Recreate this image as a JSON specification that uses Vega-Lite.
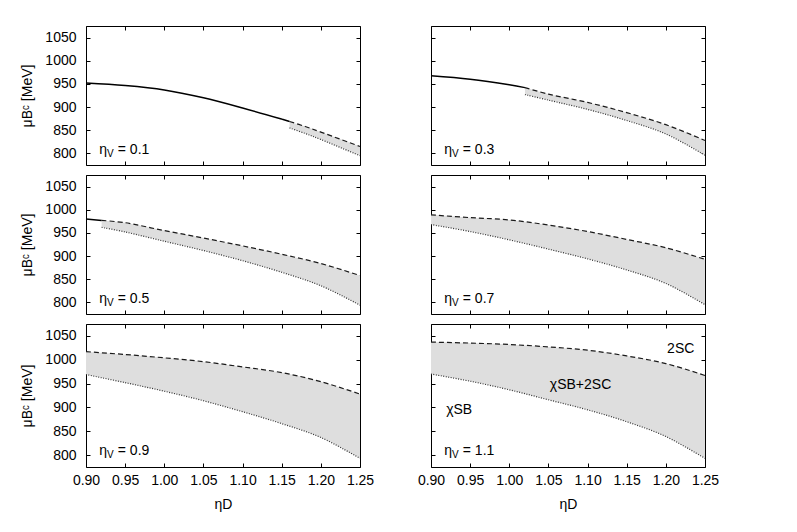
{
"$schema":"https://vega.github.io/schema/vega-lite/v6.json",
"padding":{"left":20,"top":25,"right":5,"bottom":5},
"background":"white",
"config":{
 "view":{"stroke":"#000","strokeWidth":1},
 "axis":{"domain":false,"grid":false,"tickSize":-4,"tickColor":"#000","tickWidth":1,"labelFont":"Liberation Sans","labelFontSize":14,"labelColor":"#000","labelOverlap":false,"labelFlush":false,"titleFont":"Liberation Sans","titleFontSize":14,"titleFontWeight":"normal","titleColor":"#000","titlePadding":10},
 "axisX":{"labelPadding":10},
 "axisY":{"labelPadding":14},
 "text":{"font":"Liberation Sans","fontSize":14,"color":"#000"}
},
"datasets":{
 "band":[
  {"v":0.1,"x":1.16,"lo":855,"hi":869},{"v":0.1,"x":1.18,"lo":843,"hi":858},{"v":0.1,"x":1.2,"lo":830,"hi":846},{"v":0.1,"x":1.25,"lo":795,"hi":815},
  {"v":0.3,"x":1.02,"lo":927,"hi":942},{"v":0.3,"x":1.05,"lo":915,"hi":928},{"v":0.3,"x":1.1,"lo":895,"hi":910},{"v":0.3,"x":1.15,"lo":871,"hi":888},{"v":0.3,"x":1.2,"lo":842,"hi":862},{"v":0.3,"x":1.25,"lo":796,"hi":828},
  {"v":0.5,"x":0.92,"lo":962,"hi":977},{"v":0.5,"x":0.95,"lo":952,"hi":972},{"v":0.5,"x":1.0,"lo":932,"hi":955},{"v":0.5,"x":1.05,"lo":912,"hi":939},{"v":0.5,"x":1.1,"lo":890,"hi":922},{"v":0.5,"x":1.15,"lo":865,"hi":904},{"v":0.5,"x":1.2,"lo":836,"hi":884},{"v":0.5,"x":1.25,"lo":794,"hi":858},
  {"v":0.7,"x":0.9,"lo":968,"hi":989},{"v":0.7,"x":0.95,"lo":953,"hi":983},{"v":0.7,"x":1.0,"lo":935,"hi":978},{"v":0.7,"x":1.05,"lo":915,"hi":967},{"v":0.7,"x":1.1,"lo":894,"hi":953},{"v":0.7,"x":1.15,"lo":870,"hi":936},{"v":0.7,"x":1.2,"lo":841,"hi":918},{"v":0.7,"x":1.25,"lo":795,"hi":893},
  {"v":0.9,"x":0.9,"lo":969,"hi":1017},{"v":0.9,"x":0.95,"lo":952,"hi":1011},{"v":0.9,"x":1.0,"lo":934,"hi":1004},{"v":0.9,"x":1.05,"lo":914,"hi":996},{"v":0.9,"x":1.1,"lo":891,"hi":985},{"v":0.9,"x":1.15,"lo":866,"hi":973},{"v":0.9,"x":1.2,"lo":837,"hi":954},{"v":0.9,"x":1.25,"lo":793,"hi":928},
  {"v":1.1,"x":0.9,"lo":970,"hi":1037},{"v":1.1,"x":0.95,"lo":955,"hi":1035},{"v":1.1,"x":1.0,"lo":937,"hi":1032},{"v":1.1,"x":1.05,"lo":916,"hi":1027},{"v":1.1,"x":1.1,"lo":895,"hi":1020},{"v":1.1,"x":1.15,"lo":870,"hi":1008},{"v":1.1,"x":1.2,"lo":839,"hi":992},{"v":1.1,"x":1.25,"lo":793,"hi":967}
 ],
 "solid":[
  {"v":0.1,"x":0.9,"y":952},{"v":0.1,"x":0.95,"y":946.5},{"v":0.1,"x":1.0,"y":937},{"v":0.1,"x":1.05,"y":920},{"v":0.1,"x":1.1,"y":898},{"v":0.1,"x":1.15,"y":874},{"v":0.1,"x":1.16,"y":869},
  {"v":0.3,"x":0.9,"y":967.5},{"v":0.3,"x":0.95,"y":960},{"v":0.3,"x":1.0,"y":948},{"v":0.3,"x":1.02,"y":942},
  {"v":0.5,"x":0.9,"y":980},{"v":0.5,"x":0.92,"y":977}
 ],
 "ann":[
  {"v":0.1,"x":0.917,"y":808,"t":"= 0.1"},{"v":0.3,"x":0.917,"y":808,"t":"= 0.3"},{"v":0.5,"x":0.917,"y":808,"t":"= 0.5"},
  {"v":0.7,"x":0.917,"y":808,"t":"= 0.7"},{"v":0.9,"x":0.917,"y":808,"t":"= 0.9"},{"v":1.1,"x":0.917,"y":808,"t":"= 1.1"}
 ],
 "phase":[
  {"v":1.1,"x":1.219,"y":1022,"t":"2SC"},{"v":1.1,"x":1.091,"y":948,"t":"χSB+2SC"},{"v":1.1,"x":0.936,"y":895,"t":"χSB"}
 ]
},
"vconcat":[
 {"hconcat":[
  {"width":274,"height":139,
   "layer":[
    {"data":{"name":"band"},"transform":[{"filter":{"field":"v","equal":0.1}}],"mark":{"type":"area","color":"#dedede","interpolate":"catmull-rom"},
     "encoding":{"x":{"field":"x","type":"quantitative","scale":{"domain":[0.9,1.25],"nice":false,"zero":false},"axis":{"orient":"bottom","labels":false,"title":null,"values":[0.9,0.95,1,1.05,1.1,1.15,1.2,1.25]}},
      "y":{"field":"lo","type":"quantitative","scale":{"domain":[775,1075],"nice":false,"zero":false},"axis":{"orient":"left","title":"μBᶜ [MeV]","format":"d","values":[800,850,900,950,1000,1050]}},"y2":{"field":"hi"}}},
    {"data":{"name":"band"},"transform":[{"filter":{"field":"v","equal":0.1}}],"mark":{"type":"line","color":"#1a1a1a","strokeWidth":1.2,"strokeDash":[5,3],"interpolate":"catmull-rom"},
     "encoding":{"x":{"field":"x","type":"quantitative","scale":{"domain":[0.9,1.25],"nice":false,"zero":false},"axis":{"orient":"top","labels":false,"title":null,"values":[0.9,0.95,1,1.05,1.1,1.15,1.2,1.25]}},
      "y":{"field":"hi","type":"quantitative","scale":{"domain":[775,1075],"nice":false,"zero":false},"axis":{"orient":"right","labels":false,"title":null,"values":[800,850,900,950,1000,1050]}}}},
    {"data":{"name":"band"},"transform":[{"filter":{"field":"v","equal":0.1}}],"mark":{"type":"line","color":"#333","strokeWidth":1.2,"strokeDash":[1,1.5],"interpolate":"catmull-rom"},
     "encoding":{"x":{"field":"x","type":"quantitative","scale":{"domain":[0.9,1.25],"nice":false,"zero":false},"axis":null},"y":{"field":"lo","type":"quantitative","scale":{"domain":[775,1075],"nice":false,"zero":false},"axis":null}}},
    {"data":{"name":"solid"},"transform":[{"filter":{"field":"v","equal":0.1}}],"mark":{"type":"line","color":"#000","strokeWidth":1.5,"interpolate":"catmull-rom"},
     "encoding":{"x":{"field":"x","type":"quantitative","scale":{"domain":[0.9,1.25],"nice":false,"zero":false},"axis":null},"y":{"field":"y","type":"quantitative","scale":{"domain":[775,1075],"nice":false,"zero":false},"axis":null}}},
    {"data":{"name":"ann"},"transform":[{"filter":{"field":"v","equal":0.1}}],"mark":{"type":"text","align":"left","baseline":"middle"},
     "encoding":{"x":{"field":"x","type":"quantitative","scale":{"domain":[0.9,1.25],"nice":false,"zero":false},"axis":null},"y":{"field":"y","type":"quantitative","scale":{"domain":[775,1075],"nice":false,"zero":false},"axis":null},"text":{"value":"η"}}},
    {"data":{"name":"ann"},"transform":[{"filter":{"field":"v","equal":0.1}}],"mark":{"type":"text","align":"left","baseline":"middle","fontSize":10,"dx":7.7,"dy":4},
     "encoding":{"x":{"field":"x","type":"quantitative","scale":{"domain":[0.9,1.25],"nice":false,"zero":false},"axis":null},"y":{"field":"y","type":"quantitative","scale":{"domain":[775,1075],"nice":false,"zero":false},"axis":null},"text":{"value":"V"}}},
    {"data":{"name":"ann"},"transform":[{"filter":{"field":"v","equal":0.1}}],"mark":{"type":"text","align":"left","baseline":"middle","dx":18.5},
     "encoding":{"x":{"field":"x","type":"quantitative","scale":{"domain":[0.9,1.25],"nice":false,"zero":false},"axis":null},"y":{"field":"y","type":"quantitative","scale":{"domain":[775,1075],"nice":false,"zero":false},"axis":null},"text":{"field":"t"}}}
   ],
   "resolve":{"axis":{"x":"independent","y":"independent"}}},
  {"width":274,"height":139,
   "layer":[
    {"data":{"name":"band"},"transform":[{"filter":{"field":"v","equal":0.3}}],"mark":{"type":"area","color":"#dedede","interpolate":"catmull-rom"},
     "encoding":{"x":{"field":"x","type":"quantitative","scale":{"domain":[0.9,1.25],"nice":false,"zero":false},"axis":{"orient":"bottom","labels":false,"title":null,"values":[0.9,0.95,1,1.05,1.1,1.15,1.2,1.25]}},
      "y":{"field":"lo","type":"quantitative","scale":{"domain":[775,1075],"nice":false,"zero":false},"axis":{"orient":"left","labels":false,"title":null,"values":[800,850,900,950,1000,1050]}},"y2":{"field":"hi"}}},
    {"data":{"name":"band"},"transform":[{"filter":{"field":"v","equal":0.3}}],"mark":{"type":"line","color":"#1a1a1a","strokeWidth":1.2,"strokeDash":[5,3],"interpolate":"catmull-rom"},
     "encoding":{"x":{"field":"x","type":"quantitative","scale":{"domain":[0.9,1.25],"nice":false,"zero":false},"axis":{"orient":"top","labels":false,"title":null,"values":[0.9,0.95,1,1.05,1.1,1.15,1.2,1.25]}},
      "y":{"field":"hi","type":"quantitative","scale":{"domain":[775,1075],"nice":false,"zero":false},"axis":{"orient":"right","labels":false,"title":null,"values":[800,850,900,950,1000,1050]}}}},
    {"data":{"name":"band"},"transform":[{"filter":{"field":"v","equal":0.3}}],"mark":{"type":"line","color":"#333","strokeWidth":1.2,"strokeDash":[1,1.5],"interpolate":"catmull-rom"},
     "encoding":{"x":{"field":"x","type":"quantitative","scale":{"domain":[0.9,1.25],"nice":false,"zero":false},"axis":null},"y":{"field":"lo","type":"quantitative","scale":{"domain":[775,1075],"nice":false,"zero":false},"axis":null}}},
    {"data":{"name":"solid"},"transform":[{"filter":{"field":"v","equal":0.3}}],"mark":{"type":"line","color":"#000","strokeWidth":1.5,"interpolate":"catmull-rom"},
     "encoding":{"x":{"field":"x","type":"quantitative","scale":{"domain":[0.9,1.25],"nice":false,"zero":false},"axis":null},"y":{"field":"y","type":"quantitative","scale":{"domain":[775,1075],"nice":false,"zero":false},"axis":null}}},
    {"data":{"name":"ann"},"transform":[{"filter":{"field":"v","equal":0.3}}],"mark":{"type":"text","align":"left","baseline":"middle"},
     "encoding":{"x":{"field":"x","type":"quantitative","scale":{"domain":[0.9,1.25],"nice":false,"zero":false},"axis":null},"y":{"field":"y","type":"quantitative","scale":{"domain":[775,1075],"nice":false,"zero":false},"axis":null},"text":{"value":"η"}}},
    {"data":{"name":"ann"},"transform":[{"filter":{"field":"v","equal":0.3}}],"mark":{"type":"text","align":"left","baseline":"middle","fontSize":10,"dx":7.7,"dy":4},
     "encoding":{"x":{"field":"x","type":"quantitative","scale":{"domain":[0.9,1.25],"nice":false,"zero":false},"axis":null},"y":{"field":"y","type":"quantitative","scale":{"domain":[775,1075],"nice":false,"zero":false},"axis":null},"text":{"value":"V"}}},
    {"data":{"name":"ann"},"transform":[{"filter":{"field":"v","equal":0.3}}],"mark":{"type":"text","align":"left","baseline":"middle","dx":18.5},
     "encoding":{"x":{"field":"x","type":"quantitative","scale":{"domain":[0.9,1.25],"nice":false,"zero":false},"axis":null},"y":{"field":"y","type":"quantitative","scale":{"domain":[775,1075],"nice":false,"zero":false},"axis":null},"text":{"field":"t"}}}
   ],
   "resolve":{"axis":{"x":"independent","y":"independent"}}}
 ],"spacing":71,"bounds":"flush"},
 {"hconcat":[
  {"width":274,"height":139,
   "layer":[
    {"data":{"name":"band"},"transform":[{"filter":{"field":"v","equal":0.5}}],"mark":{"type":"area","color":"#dedede","interpolate":"catmull-rom"},
     "encoding":{"x":{"field":"x","type":"quantitative","scale":{"domain":[0.9,1.25],"nice":false,"zero":false},"axis":{"orient":"bottom","labels":false,"title":null,"values":[0.9,0.95,1,1.05,1.1,1.15,1.2,1.25]}},
      "y":{"field":"lo","type":"quantitative","scale":{"domain":[775,1075],"nice":false,"zero":false},"axis":{"orient":"left","title":"μBᶜ [MeV]","format":"d","values":[800,850,900,950,1000,1050]}},"y2":{"field":"hi"}}},
    {"data":{"name":"band"},"transform":[{"filter":{"field":"v","equal":0.5}}],"mark":{"type":"line","color":"#1a1a1a","strokeWidth":1.2,"strokeDash":[5,3],"interpolate":"catmull-rom"},
     "encoding":{"x":{"field":"x","type":"quantitative","scale":{"domain":[0.9,1.25],"nice":false,"zero":false},"axis":{"orient":"top","labels":false,"title":null,"values":[0.9,0.95,1,1.05,1.1,1.15,1.2,1.25]}},
      "y":{"field":"hi","type":"quantitative","scale":{"domain":[775,1075],"nice":false,"zero":false},"axis":{"orient":"right","labels":false,"title":null,"values":[800,850,900,950,1000,1050]}}}},
    {"data":{"name":"band"},"transform":[{"filter":{"field":"v","equal":0.5}}],"mark":{"type":"line","color":"#333","strokeWidth":1.2,"strokeDash":[1,1.5],"interpolate":"catmull-rom"},
     "encoding":{"x":{"field":"x","type":"quantitative","scale":{"domain":[0.9,1.25],"nice":false,"zero":false},"axis":null},"y":{"field":"lo","type":"quantitative","scale":{"domain":[775,1075],"nice":false,"zero":false},"axis":null}}},
    {"data":{"name":"solid"},"transform":[{"filter":{"field":"v","equal":0.5}}],"mark":{"type":"line","color":"#000","strokeWidth":1.5,"interpolate":"catmull-rom"},
     "encoding":{"x":{"field":"x","type":"quantitative","scale":{"domain":[0.9,1.25],"nice":false,"zero":false},"axis":null},"y":{"field":"y","type":"quantitative","scale":{"domain":[775,1075],"nice":false,"zero":false},"axis":null}}},
    {"data":{"name":"ann"},"transform":[{"filter":{"field":"v","equal":0.5}}],"mark":{"type":"text","align":"left","baseline":"middle"},
     "encoding":{"x":{"field":"x","type":"quantitative","scale":{"domain":[0.9,1.25],"nice":false,"zero":false},"axis":null},"y":{"field":"y","type":"quantitative","scale":{"domain":[775,1075],"nice":false,"zero":false},"axis":null},"text":{"value":"η"}}},
    {"data":{"name":"ann"},"transform":[{"filter":{"field":"v","equal":0.5}}],"mark":{"type":"text","align":"left","baseline":"middle","fontSize":10,"dx":7.7,"dy":4},
     "encoding":{"x":{"field":"x","type":"quantitative","scale":{"domain":[0.9,1.25],"nice":false,"zero":false},"axis":null},"y":{"field":"y","type":"quantitative","scale":{"domain":[775,1075],"nice":false,"zero":false},"axis":null},"text":{"value":"V"}}},
    {"data":{"name":"ann"},"transform":[{"filter":{"field":"v","equal":0.5}}],"mark":{"type":"text","align":"left","baseline":"middle","dx":18.5},
     "encoding":{"x":{"field":"x","type":"quantitative","scale":{"domain":[0.9,1.25],"nice":false,"zero":false},"axis":null},"y":{"field":"y","type":"quantitative","scale":{"domain":[775,1075],"nice":false,"zero":false},"axis":null},"text":{"field":"t"}}}
   ],
   "resolve":{"axis":{"x":"independent","y":"independent"}}},
  {"width":274,"height":139,
   "layer":[
    {"data":{"name":"band"},"transform":[{"filter":{"field":"v","equal":0.7}}],"mark":{"type":"area","color":"#dedede","interpolate":"catmull-rom"},
     "encoding":{"x":{"field":"x","type":"quantitative","scale":{"domain":[0.9,1.25],"nice":false,"zero":false},"axis":{"orient":"bottom","labels":false,"title":null,"values":[0.9,0.95,1,1.05,1.1,1.15,1.2,1.25]}},
      "y":{"field":"lo","type":"quantitative","scale":{"domain":[775,1075],"nice":false,"zero":false},"axis":{"orient":"left","labels":false,"title":null,"values":[800,850,900,950,1000,1050]}},"y2":{"field":"hi"}}},
    {"data":{"name":"band"},"transform":[{"filter":{"field":"v","equal":0.7}}],"mark":{"type":"line","color":"#1a1a1a","strokeWidth":1.2,"strokeDash":[5,3],"interpolate":"catmull-rom"},
     "encoding":{"x":{"field":"x","type":"quantitative","scale":{"domain":[0.9,1.25],"nice":false,"zero":false},"axis":{"orient":"top","labels":false,"title":null,"values":[0.9,0.95,1,1.05,1.1,1.15,1.2,1.25]}},
      "y":{"field":"hi","type":"quantitative","scale":{"domain":[775,1075],"nice":false,"zero":false},"axis":{"orient":"right","labels":false,"title":null,"values":[800,850,900,950,1000,1050]}}}},
    {"data":{"name":"band"},"transform":[{"filter":{"field":"v","equal":0.7}}],"mark":{"type":"line","color":"#333","strokeWidth":1.2,"strokeDash":[1,1.5],"interpolate":"catmull-rom"},
     "encoding":{"x":{"field":"x","type":"quantitative","scale":{"domain":[0.9,1.25],"nice":false,"zero":false},"axis":null},"y":{"field":"lo","type":"quantitative","scale":{"domain":[775,1075],"nice":false,"zero":false},"axis":null}}},
    {"data":{"name":"ann"},"transform":[{"filter":{"field":"v","equal":0.7}}],"mark":{"type":"text","align":"left","baseline":"middle"},
     "encoding":{"x":{"field":"x","type":"quantitative","scale":{"domain":[0.9,1.25],"nice":false,"zero":false},"axis":null},"y":{"field":"y","type":"quantitative","scale":{"domain":[775,1075],"nice":false,"zero":false},"axis":null},"text":{"value":"η"}}},
    {"data":{"name":"ann"},"transform":[{"filter":{"field":"v","equal":0.7}}],"mark":{"type":"text","align":"left","baseline":"middle","fontSize":10,"dx":7.7,"dy":4},
     "encoding":{"x":{"field":"x","type":"quantitative","scale":{"domain":[0.9,1.25],"nice":false,"zero":false},"axis":null},"y":{"field":"y","type":"quantitative","scale":{"domain":[775,1075],"nice":false,"zero":false},"axis":null},"text":{"value":"V"}}},
    {"data":{"name":"ann"},"transform":[{"filter":{"field":"v","equal":0.7}}],"mark":{"type":"text","align":"left","baseline":"middle","dx":18.5},
     "encoding":{"x":{"field":"x","type":"quantitative","scale":{"domain":[0.9,1.25],"nice":false,"zero":false},"axis":null},"y":{"field":"y","type":"quantitative","scale":{"domain":[775,1075],"nice":false,"zero":false},"axis":null},"text":{"field":"t"}}}
   ],
   "resolve":{"axis":{"x":"independent","y":"independent"}}}
 ],"spacing":71,"bounds":"flush"},
 {"hconcat":[
  {"width":274,"height":143,
   "layer":[
    {"data":{"name":"band"},"transform":[{"filter":{"field":"v","equal":0.9}}],"mark":{"type":"area","color":"#dedede","interpolate":"catmull-rom"},
     "encoding":{"x":{"field":"x","type":"quantitative","scale":{"domain":[0.9,1.25],"nice":false,"zero":false},"axis":{"orient":"bottom","title":"ηD","format":".2f","values":[0.9,0.95,1,1.05,1.1,1.15,1.2,1.25]}},
      "y":{"field":"lo","type":"quantitative","scale":{"domain":[775,1075],"nice":false,"zero":false},"axis":{"orient":"left","title":"μBᶜ [MeV]","format":"d","values":[800,850,900,950,1000,1050]}},"y2":{"field":"hi"}}},
    {"data":{"name":"band"},"transform":[{"filter":{"field":"v","equal":0.9}}],"mark":{"type":"line","color":"#1a1a1a","strokeWidth":1.2,"strokeDash":[5,3],"interpolate":"catmull-rom"},
     "encoding":{"x":{"field":"x","type":"quantitative","scale":{"domain":[0.9,1.25],"nice":false,"zero":false},"axis":{"orient":"top","labels":false,"title":null,"values":[0.9,0.95,1,1.05,1.1,1.15,1.2,1.25]}},
      "y":{"field":"hi","type":"quantitative","scale":{"domain":[775,1075],"nice":false,"zero":false},"axis":{"orient":"right","labels":false,"title":null,"values":[800,850,900,950,1000,1050]}}}},
    {"data":{"name":"band"},"transform":[{"filter":{"field":"v","equal":0.9}}],"mark":{"type":"line","color":"#333","strokeWidth":1.2,"strokeDash":[1,1.5],"interpolate":"catmull-rom"},
     "encoding":{"x":{"field":"x","type":"quantitative","scale":{"domain":[0.9,1.25],"nice":false,"zero":false},"axis":null},"y":{"field":"lo","type":"quantitative","scale":{"domain":[775,1075],"nice":false,"zero":false},"axis":null}}},
    {"data":{"name":"ann"},"transform":[{"filter":{"field":"v","equal":0.9}}],"mark":{"type":"text","align":"left","baseline":"middle"},
     "encoding":{"x":{"field":"x","type":"quantitative","scale":{"domain":[0.9,1.25],"nice":false,"zero":false},"axis":null},"y":{"field":"y","type":"quantitative","scale":{"domain":[775,1075],"nice":false,"zero":false},"axis":null},"text":{"value":"η"}}},
    {"data":{"name":"ann"},"transform":[{"filter":{"field":"v","equal":0.9}}],"mark":{"type":"text","align":"left","baseline":"middle","fontSize":10,"dx":7.7,"dy":4},
     "encoding":{"x":{"field":"x","type":"quantitative","scale":{"domain":[0.9,1.25],"nice":false,"zero":false},"axis":null},"y":{"field":"y","type":"quantitative","scale":{"domain":[775,1075],"nice":false,"zero":false},"axis":null},"text":{"value":"V"}}},
    {"data":{"name":"ann"},"transform":[{"filter":{"field":"v","equal":0.9}}],"mark":{"type":"text","align":"left","baseline":"middle","dx":18.5},
     "encoding":{"x":{"field":"x","type":"quantitative","scale":{"domain":[0.9,1.25],"nice":false,"zero":false},"axis":null},"y":{"field":"y","type":"quantitative","scale":{"domain":[775,1075],"nice":false,"zero":false},"axis":null},"text":{"field":"t"}}}
   ],
   "resolve":{"axis":{"x":"independent","y":"independent"}}},
  {"width":274,"height":143,
   "layer":[
    {"data":{"name":"band"},"transform":[{"filter":{"field":"v","equal":1.1}}],"mark":{"type":"area","color":"#dedede","interpolate":"catmull-rom"},
     "encoding":{"x":{"field":"x","type":"quantitative","scale":{"domain":[0.9,1.25],"nice":false,"zero":false},"axis":{"orient":"bottom","title":"ηD","format":".2f","values":[0.9,0.95,1,1.05,1.1,1.15,1.2,1.25]}},
      "y":{"field":"lo","type":"quantitative","scale":{"domain":[775,1075],"nice":false,"zero":false},"axis":{"orient":"left","labels":false,"title":null,"values":[800,850,900,950,1000,1050]}},"y2":{"field":"hi"}}},
    {"data":{"name":"band"},"transform":[{"filter":{"field":"v","equal":1.1}}],"mark":{"type":"line","color":"#1a1a1a","strokeWidth":1.2,"strokeDash":[5,3],"interpolate":"catmull-rom"},
     "encoding":{"x":{"field":"x","type":"quantitative","scale":{"domain":[0.9,1.25],"nice":false,"zero":false},"axis":{"orient":"top","labels":false,"title":null,"values":[0.9,0.95,1,1.05,1.1,1.15,1.2,1.25]}},
      "y":{"field":"hi","type":"quantitative","scale":{"domain":[775,1075],"nice":false,"zero":false},"axis":{"orient":"right","labels":false,"title":null,"values":[800,850,900,950,1000,1050]}}}},
    {"data":{"name":"band"},"transform":[{"filter":{"field":"v","equal":1.1}}],"mark":{"type":"line","color":"#333","strokeWidth":1.2,"strokeDash":[1,1.5],"interpolate":"catmull-rom"},
     "encoding":{"x":{"field":"x","type":"quantitative","scale":{"domain":[0.9,1.25],"nice":false,"zero":false},"axis":null},"y":{"field":"lo","type":"quantitative","scale":{"domain":[775,1075],"nice":false,"zero":false},"axis":null}}},
    {"data":{"name":"phase"},"mark":{"type":"text","align":"center","baseline":"middle"},
     "encoding":{"x":{"field":"x","type":"quantitative","scale":{"domain":[0.9,1.25],"nice":false,"zero":false},"axis":null},"y":{"field":"y","type":"quantitative","scale":{"domain":[775,1075],"nice":false,"zero":false},"axis":null},"text":{"field":"t"}}},
    {"data":{"name":"ann"},"transform":[{"filter":{"field":"v","equal":1.1}}],"mark":{"type":"text","align":"left","baseline":"middle"},
     "encoding":{"x":{"field":"x","type":"quantitative","scale":{"domain":[0.9,1.25],"nice":false,"zero":false},"axis":null},"y":{"field":"y","type":"quantitative","scale":{"domain":[775,1075],"nice":false,"zero":false},"axis":null},"text":{"value":"η"}}},
    {"data":{"name":"ann"},"transform":[{"filter":{"field":"v","equal":1.1}}],"mark":{"type":"text","align":"left","baseline":"middle","fontSize":10,"dx":7.7,"dy":4},
     "encoding":{"x":{"field":"x","type":"quantitative","scale":{"domain":[0.9,1.25],"nice":false,"zero":false},"axis":null},"y":{"field":"y","type":"quantitative","scale":{"domain":[775,1075],"nice":false,"zero":false},"axis":null},"text":{"value":"V"}}},
    {"data":{"name":"ann"},"transform":[{"filter":{"field":"v","equal":1.1}}],"mark":{"type":"text","align":"left","baseline":"middle","dx":18.5},
     "encoding":{"x":{"field":"x","type":"quantitative","scale":{"domain":[0.9,1.25],"nice":false,"zero":false},"axis":null},"y":{"field":"y","type":"quantitative","scale":{"domain":[775,1075],"nice":false,"zero":false},"axis":null},"text":{"field":"t"}}}
   ],
   "resolve":{"axis":{"x":"independent","y":"independent"}}}
 ],"spacing":71,"bounds":"flush"}
],
"spacing":8
}
